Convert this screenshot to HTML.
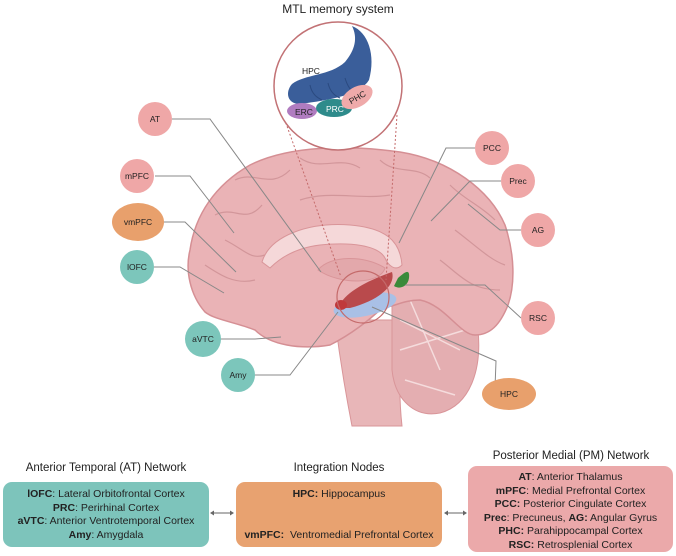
<!DOCTYPE html>
<html><head><style>
body{margin:0;width:676px;height:556px;background:#fff;font-family:"Liberation Sans",sans-serif;position:relative;overflow:hidden}
.t{position:absolute;font-size:12px;color:#222;text-align:center}
.box{position:absolute;border-radius:9px;font-size:10.5px;color:#222;text-align:center;line-height:13.5px;box-sizing:border-box}
</style></head><body>
<svg width="676" height="556" style="position:absolute;left:0;top:0">
<path d="M335,320 C340,360 345,390 352,426 L402,426 C398,390 400,360 405,320Z" fill="#e8b6b8" stroke="#d99599"/>
<path d="M392,290 C430,280 470,290 478,330 C482,370 470,405 440,413 C415,418 395,400 392,370Z" fill="#e4aeb1" stroke="#d99599"/>
<g fill="none" stroke="#f5dcdd" stroke-width="1.5"><path d="M400,320 L460,350"/><path d="M410,300 L440,370"/><path d="M400,350 L465,330"/><path d="M405,380 L455,395"/></g>
<path d="M205,312 C190,295 185,270 190,250 C195,215 215,185 250,165 C290,145 350,145 400,152 C450,160 490,190 505,225 C515,255 515,285 508,305 C500,325 490,335 475,335 C460,335 445,305 420,300 C400,300 390,310 385,305 C370,320 350,335 330,345 C300,350 270,345 255,330 C235,322 215,320 205,312Z" fill="#eab3b6" stroke="#d58f94" stroke-width="1.5"/>
<g fill="none" stroke="#d2969a" stroke-width="1.2">
<path d="M215,215 C235,205 245,225 262,205"/><path d="M235,180 C255,170 270,190 290,170"/><path d="M300,158 C320,172 340,155 360,168"/><path d="M380,160 C395,175 415,165 430,178"/><path d="M450,185 C465,200 480,205 495,220"/><path d="M455,230 C475,245 490,260 505,265"/><path d="M205,265 C220,275 235,285 255,280"/><path d="M440,260 C460,275 470,290 500,290"/><path d="M300,200 C330,190 360,200 390,195"/><path d="M225,240 C245,250 250,260 265,255"/>
</g>
<path d="M262,262 C270,235 310,222 350,225 C385,228 400,240 402,265 C395,272 388,265 385,258 C378,245 350,242 320,245 C295,248 280,258 270,268Z" fill="#f5d8d9" stroke="#d99599"/>
<path d="M318,270 C330,255 365,255 385,268 C380,285 340,285 318,270Z" fill="#e3a8ab" stroke="#d99599"/>
<ellipse cx="365" cy="305" rx="32" ry="11" fill="#a9c0e6" transform="rotate(-12 365 305)"/>
<path d="M338,308 C345,290 375,278 392,272 C396,285 380,300 350,308Z" fill="#b94a4c"/>
<ellipse cx="341" cy="305" rx="6" ry="5" fill="#c0393b"/>
<path d="M398,278 C405,272 410,268 409,278 C408,286 400,290 394,286Z" fill="#3a8a3a"/>
<circle cx="363" cy="297" r="26" fill="none" stroke="#c46a6a" stroke-width="1.2"/>
<g stroke="#c46a6a" stroke-dasharray="2,2" fill="none"><line x1="283" y1="115" x2="341" y2="277"/><line x1="397" y1="115" x2="386" y2="280"/></g>
<g stroke="#888" fill="none" stroke-width="1">
<polyline points="172,119 210,119 321,272"/><polyline points="155,176 190,176 234,233"/><polyline points="163,222 185,222 236,272"/><polyline points="154,267 180,267 224,293"/>
<polyline points="220,339 255,339 281,337"/><polyline points="255,375 290,375 338,312"/>
<polyline points="475,148 446,148 399,243"/><polyline points="501,181 470,181 431,221"/><polyline points="521,230 500,230 468,204"/>
<polyline points="521,318 485,285 405,285"/><polyline points="495,388 496,361 372,307"/>
</g>
<circle cx="338" cy="86" r="64" fill="#fff" stroke="#c27275" stroke-width="1.5"/>
<path d="M352,26 C368,32 376,55 369,80 C360,95 330,100 300,104 C287,104 285,92 292,84 C305,74 330,76 345,62 C355,50 358,38 352,26Z" fill="#3a5e9a"/>
<g fill="none" stroke="#2b4a80" stroke-width="1"><path d="M310,85 C312,95 318,98 322,100"/><path d="M328,83 C330,92 335,96 340,98"/><path d="M345,78 C348,88 352,92 356,94"/></g>
<ellipse cx="302" cy="111" rx="15" ry="8" fill="#b07cc0"/>
<ellipse cx="334" cy="108" rx="18" ry="9" fill="#2e8b8b"/>
<ellipse cx="357" cy="97" rx="17" ry="10" fill="#efaaaa" transform="rotate(-30 357 97)"/>
<g font-size="8.5" fill="#222"><text x="302" y="74">HPC</text><text x="295" y="115">ERC</text><text x="326" y="112" fill="#fff">PRC</text><text x="348" y="101" transform="rotate(-30 356 97)">PHC</text></g>
<g stroke="#666" fill="#666"><line x1="212" y1="513" x2="232" y2="513"/><line x1="446" y1="513" x2="465" y2="513"/><line x1="338" y1="505" x2="338" y2="522"/></g>
<g fill="#666"><path d="M210,513 l4,-2.5 v5z"/><path d="M234,513 l-4,-2.5 v5z"/><path d="M444,513 l4,-2.5 v5z"/><path d="M467,513 l-4,-2.5 v5z"/><path d="M338,503 l-2.5,4 h5z"/><path d="M338,524 l-2.5,-4 h5z"/></g>
<g font-size="8.5" text-anchor="middle">
<g fill="#efa7a7"><circle cx="155" cy="119" r="17"/><circle cx="137" cy="176" r="17"/><circle cx="492" cy="148" r="17"/><circle cx="518" cy="181" r="17"/><circle cx="538" cy="230" r="17"/><circle cx="538" cy="318" r="17"/></g>
<g fill="#e8a06c"><ellipse cx="138" cy="222" rx="26" ry="19"/><ellipse cx="509" cy="394" rx="27" ry="16"/></g>
<g fill="#7cc6bb"><circle cx="137" cy="267" r="17"/><circle cx="203" cy="339" r="18"/><circle cx="238" cy="375" r="17"/></g>
<g fill="#222"><text x="155" y="122">AT</text><text x="137" y="179">mPFC</text><text x="138" y="225">vmPFC</text><text x="137" y="270">lOFC</text><text x="203" y="342">aVTC</text><text x="238" y="378">Amy</text><text x="492" y="151">PCC</text><text x="518" y="184">Prec</text><text x="538" y="233">AG</text><text x="538" y="321">RSC</text><text x="509" y="397">HPC</text></g>
</g>
</svg>
<div class="t" style="left:268px;top:2px;width:140px">MTL memory system</div>
<div class="t" style="left:3px;top:462px;width:206px;font-size:11.5px">Anterior Temporal (AT) Network</div>
<div class="t" style="left:236px;top:462px;width:206px;font-size:11.5px">Integration Nodes</div>
<div class="t" style="left:468px;top:450px;width:206px;font-size:11.5px">Posterior Medial (PM) Network</div>
<div class="box" style="left:3px;top:482px;width:206px;height:65px;background:#7dc4bb;padding-top:6px"><b>lOFC</b>: Lateral Orbitofrontal Cortex<br><b>PRC</b>: Perirhinal Cortex<br><b>aVTC</b>: Anterior Ventrotemporal Cortex<br><b>Amy</b>: Amygdala</div>
<div class="box" style="left:236px;top:482px;width:206px;height:65px;background:#e8a270;padding-top:6px"><b>HPC:</b> Hippocampus<br><br><br><b>vmPFC:</b>&nbsp; Ventromedial Prefrontal Cortex</div>
<div class="box" style="left:468px;top:466px;width:205px;height:86px;background:#eba9aa;padding-top:5px"><b>AT</b>: Anterior Thalamus<br><b>mPFC</b>: Medial Prefrontal Cortex<br><b>PCC:</b> Posterior Cingulate Cortex<br><b>Prec</b>: Precuneus, <b>AG:</b> Angular Gyrus<br><b>PHC:</b> Parahippocampal Cortex<br><b>RSC:</b> Retrosplenial Cortex</div>
</body></html>
